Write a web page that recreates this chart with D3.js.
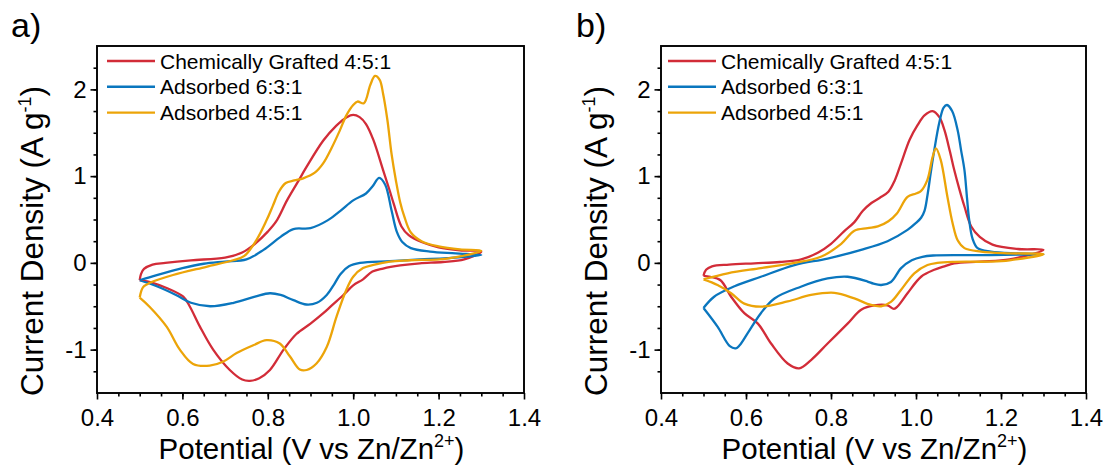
<!DOCTYPE html>
<html>
<head>
<meta charset="utf-8" />
<title>Cyclic voltammograms</title>
<script src="https://d3js.org/d3.v7.min.js"></script>
<style>
    body { margin: 0; background: #fff; }
    svg { font-family: Arial, "Liberation Sans", sans-serif; }
    .tick text { fill: #000; }
    .tick line { stroke: #000; stroke-width: 1.6px; }
    .cv { fill: none; stroke-width: 2.3px; stroke-linejoin: round; }
</style>
</head>
<body>
<div id="graphic"></div>
<script>
// tick values
var xTicks = [0.4, 0.6, 0.8, 1.0, 1.2, 1.4];
var yTicks = [-1, 0, 1, 2];
var seriesNames = ["Chemically Grafted 4:5:1", "Adsorbed 6:3:1", "Adsorbed 4:5:1"];
var colors = ["#d22c38", "#0a76be", "#eca408"];

// panel a) -- [potential V, current A/g], forward scan then reverse scan
var aGraftedFwd = [[0.5,-0.2],[0.503,-0.13],[0.51,-0.07],[0.53,-0.02],[0.56,0.0],[0.62,0.03],[0.7,0.06],[0.74,0.12],[0.77,0.22],[0.8,0.36],[0.82,0.48],[0.845,0.72],[0.87,0.93],[0.89,1.1],[0.93,1.41],[0.96,1.58],[0.985,1.68],[1.0,1.705],[1.015,1.68],[1.03,1.6],[1.047,1.42],[1.07,1.07],[1.085,0.84],[1.095,0.68],[1.113,0.42],[1.13,0.32],[1.16,0.24],[1.2,0.18],[1.25,0.145],[1.3,0.13]];
var aGraftedRev = [[1.3,0.09],[1.26,0.04],[1.21,0.01],[1.156,-0.005],[1.11,-0.03],[1.07,-0.065],[1.045,-0.1],[1.023,-0.19],[1.0,-0.26],[0.977,-0.37],[0.95,-0.49],[0.93,-0.58],[0.9,-0.7],[0.867,-0.82],[0.837,-1.0],[0.805,-1.235],[0.78,-1.33],[0.758,-1.36],[0.74,-1.345],[0.711,-1.235],[0.672,-1.0],[0.641,-0.735],[0.617,-0.5],[0.602,-0.39],[0.563,-0.29],[0.53,-0.23],[0.5,-0.2]];
var aAds631Fwd = [[0.5,-0.2],[0.54,-0.14],[0.6,-0.06],[0.65,-0.01],[0.7,0.015],[0.75,0.04],[0.79,0.15],[0.83,0.3],[0.86,0.39],[0.9,0.4],[0.94,0.49],[0.97,0.6],[1.0,0.72],[1.03,0.8],[1.045,0.88],[1.061,0.98],[1.075,0.9],[1.09,0.6],[1.102,0.36],[1.115,0.24],[1.135,0.17],[1.18,0.13],[1.24,0.11],[1.3,0.09]];
var aAds631Rev = [[1.3,0.08],[1.22,0.055],[1.156,0.04],[1.086,0.02],[1.016,0.0],[0.99,-0.04],[0.97,-0.13],[0.955,-0.25],[0.938,-0.37],[0.915,-0.46],[0.89,-0.48],[0.86,-0.43],[0.83,-0.37],[0.805,-0.35],[0.77,-0.39],[0.72,-0.46],[0.665,-0.5],[0.62,-0.46],[0.585,-0.37],[0.54,-0.27],[0.5,-0.2]];
var aAds451Fwd = [[0.5,-0.4],[0.508,-0.28],[0.524,-0.23],[0.578,-0.14],[0.656,-0.045],[0.719,0.03],[0.745,0.08],[0.773,0.26],[0.797,0.49],[0.812,0.66],[0.826,0.82],[0.842,0.92],[0.862,0.95],[0.883,0.975],[0.91,1.04],[0.93,1.15],[0.95,1.33],[0.969,1.53],[0.984,1.7],[1.0,1.82],[1.01,1.86],[1.025,1.84],[1.04,2.05],[1.051,2.155],[1.062,2.11],[1.07,1.95],[1.08,1.65],[1.09,1.25],[1.1,0.95],[1.11,0.7],[1.12,0.53],[1.135,0.35],[1.16,0.25],[1.2,0.19],[1.25,0.155],[1.3,0.14]];
var aAds451Rev = [[1.3,0.09],[1.22,0.05],[1.133,0.03],[1.086,0.015],[1.05,-0.02],[1.023,-0.06],[1.0,-0.16],[0.984,-0.31],[0.961,-0.62],[0.938,-0.97],[0.914,-1.16],[0.891,-1.235],[0.875,-1.23],[0.852,-1.08],[0.828,-0.93],[0.797,-0.89],[0.766,-0.95],[0.727,-1.04],[0.695,-1.14],[0.664,-1.185],[0.625,-1.165],[0.594,-1.0],[0.563,-0.735],[0.523,-0.505],[0.5,-0.4]];

// panel b)
var bGraftedFwd = [[0.5,-0.15],[0.506,-0.08],[0.52,-0.04],[0.56,-0.02],[0.62,-0.005],[0.68,0.01],[0.73,0.04],[0.77,0.12],[0.8,0.22],[0.83,0.36],[0.855,0.47],[0.875,0.6],[0.895,0.69],[0.915,0.75],[0.935,0.82],[0.95,0.95],[0.965,1.15],[0.985,1.42],[1.004,1.59],[1.02,1.7],[1.039,1.75],[1.055,1.68],[1.067,1.53],[1.08,1.28],[1.09,1.07],[1.102,0.85],[1.114,0.65],[1.13,0.42],[1.15,0.3],[1.18,0.21],[1.24,0.16],[1.3,0.15]];
var bGraftedRev = [[1.3,0.1],[1.22,0.04],[1.15,0.015],[1.09,-0.005],[1.067,-0.04],[1.043,-0.08],[1.012,-0.16],[0.98,-0.35],[0.957,-0.5],[0.948,-0.53],[0.933,-0.49],[0.902,-0.49],[0.871,-0.54],[0.839,-0.7],[0.792,-0.93],[0.753,-1.12],[0.725,-1.215],[0.698,-1.16],[0.659,-0.93],[0.628,-0.7],[0.596,-0.58],[0.565,-0.39],[0.54,-0.2],[0.516,-0.16],[0.5,-0.15]];
var bAds631Fwd = [[0.5,-0.52],[0.525,-0.39],[0.573,-0.27],[0.635,-0.16],[0.714,-0.025],[0.792,0.05],[0.871,0.15],[0.933,0.25],[0.98,0.38],[1.0,0.46],[1.012,0.52],[1.02,0.6],[1.027,0.78],[1.035,1.05],[1.043,1.3],[1.055,1.62],[1.065,1.79],[1.073,1.82],[1.085,1.75],[1.098,1.53],[1.106,1.3],[1.114,1.07],[1.12,0.75],[1.125,0.5],[1.133,0.28],[1.145,0.17],[1.176,0.13],[1.24,0.11],[1.3,0.1]];
var bAds631Rev = [[1.3,0.1],[1.24,0.095],[1.176,0.09],[1.106,0.09],[1.04,0.085],[1.015,0.07],[0.99,0.03],[0.965,-0.06],[0.941,-0.22],[0.918,-0.255],[0.9,-0.24],[0.886,-0.215],[0.839,-0.16],[0.792,-0.18],[0.729,-0.275],[0.667,-0.41],[0.635,-0.58],[0.604,-0.81],[0.585,-0.95],[0.576,-0.985],[0.562,-0.96],[0.533,-0.735],[0.5,-0.52]];
var bAds451Fwd = [[0.5,-0.19],[0.557,-0.12],[0.635,-0.06],[0.714,0.0],[0.776,0.07],[0.824,0.22],[0.855,0.37],[0.886,0.4],[0.91,0.42],[0.935,0.48],[0.955,0.57],[0.98,0.76],[1.0,0.8],[1.012,0.83],[1.027,0.96],[1.039,1.22],[1.047,1.32],[1.058,1.19],[1.074,0.76],[1.086,0.46],[1.098,0.26],[1.114,0.17],[1.153,0.13],[1.22,0.11],[1.3,0.1]];
var bAds451Rev = [[1.3,0.07],[1.22,0.03],[1.176,0.015],[1.09,0.012],[1.05,0.0],[1.027,-0.025],[0.996,-0.12],[0.965,-0.31],[0.941,-0.45],[0.918,-0.5],[0.894,-0.485],[0.855,-0.41],[0.808,-0.345],[0.753,-0.37],[0.698,-0.445],[0.635,-0.505],[0.596,-0.47],[0.565,-0.35],[0.533,-0.255],[0.5,-0.19]];

var svg = d3.select("#graphic").append("svg")
    .attr("width", 1106)
    .attr("height", 466);

var top_ = 46, bottom = 393;

function drawPanel(p) {
    var x = d3.scaleLinear().domain([0.4, 1.4]).range([p.left, p.right]);
    var y = d3.scaleLinear().domain([-1.5, 2.5]).range([bottom, top_]);
    var g = svg.append("g");

    // minor ticks
    g.append("g")
        .attr("transform", "translate(0," + bottom + ")")
        .call(d3.axisBottom(x).tickValues(d3.range(0.45, 1.4, 0.05)).tickSize(3.5).tickFormat(""))
        .call(function (s) { s.select(".domain").remove(); });
    g.append("g")
        .attr("transform", "translate(" + p.left + ",0)")
        .call(d3.axisLeft(y).tickValues(d3.range(-1.25, 2.5, 0.25)).tickSize(3.5).tickFormat(""))
        .call(function (s) { s.select(".domain").remove(); });

    // major ticks
    g.append("g")
        .attr("transform", "translate(0," + bottom + ")")
        .call(d3.axisBottom(x).tickValues(xTicks).tickSize(6.5).tickPadding(9)
            .tickFormat(d3.format(".1f")))
        .call(function (s) {
            s.select(".domain").remove();
            s.selectAll("text").style("font-size", "24px");
        });
    g.append("g")
        .attr("transform", "translate(" + p.left + ",0)")
        .call(d3.axisLeft(y).tickValues(yTicks).tickSize(6.5).tickPadding(4)
            .tickFormat(function (d) { return String(d); }))
        .call(function (s) {
            s.select(".domain").remove();
            s.selectAll("text").style("font-size", "24px");
        });

    // curves
    var line = d3.line()
        .x(function (d) { return x(d[0]); })
        .y(function (d) { return y(d[1]); })
        .curve(d3.curveCatmullRom.alpha(0.5));

    p.series.forEach(function (s, i) {
        g.append("path")
            .attr("class", "cv")
            .attr("stroke", colors[i])
            .attr("d", line(s[0].concat(s[1].slice(1))));
    });

    // frame
    g.append("rect")
        .attr("x", p.left).attr("y", top_)
        .attr("width", p.right - p.left).attr("height", bottom - top_)
        .attr("fill", "none").attr("stroke", "#000").attr("stroke-width", 1.9);

    // legend
    var lg = g.append("g");
    seriesNames.forEach(function (name, i) {
        var ly = 61 + i * 25.8;
        lg.append("line")
            .attr("x1", p.left + p.legendOffset).attr("x2", p.left + p.legendOffset + 48)
            .attr("y1", ly).attr("y2", ly)
            .attr("stroke", colors[i]).attr("stroke-width", 2.4);
        lg.append("text")
            .attr("x", p.left + p.legendOffset + 53)
            .attr("y", ly + 7.5)
            .style("font-size", "21px")
            .text(name);
    });

    // axis titles
    var xt = g.append("text")
        .attr("x", (p.left + p.right) / 2 + 1)
        .attr("y", 459)
        .attr("text-anchor", "middle")
        .style("font-size", "29.5px");
    xt.append("tspan").text("Potential (V vs Zn/Zn");
    xt.append("tspan").attr("dy", -12).style("font-size", "18px").text("2+");
    xt.append("tspan").attr("dy", 12).text(")");

    var yt = g.append("text")
        .attr("transform", "translate(" + (p.left - 54) + ",241) rotate(-90)")
        .attr("text-anchor", "middle")
        .style("font-size", "31.5px");
    yt.append("tspan").text("Current Density (A g");
    yt.append("tspan").attr("dy", -12).style("font-size", "18px").text("-1");
    yt.append("tspan").attr("dy", 12).text(")");

    // panel label
    g.append("text")
        .attr("x", p.labelX).attr("y", 37)
        .style("font-size", "34px")
        .text(p.label);
}

drawPanel({
    left: 97, right: 524, label: "a)", labelX: 11, legendOffset: 10,
    series: [[aGraftedFwd, aGraftedRev], [aAds631Fwd, aAds631Rev], [aAds451Fwd, aAds451Rev]]
});
drawPanel({
    left: 661, right: 1086, label: "b)", labelX: 576, legendOffset: 7,
    series: [[bGraftedFwd, bGraftedRev], [bAds631Fwd, bAds631Rev], [bAds451Fwd, bAds451Rev]]
});
</script>
</body>
</html>
